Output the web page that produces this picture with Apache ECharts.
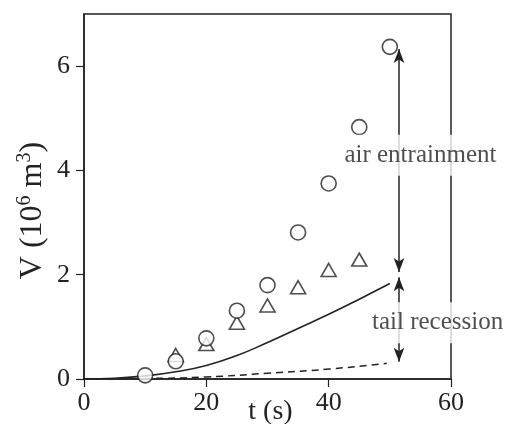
<!DOCTYPE html>
<html>
<head>
<meta charset="utf-8">
<script src="https://cdn.jsdelivr.net/npm/echarts@6/dist/echarts.min.js"></script>
<style>html,body{margin:0;padding:0;background:#fff;}#c{width:508px;height:424px;}</style>
</head>
<body>
<div id="c"></div>
<script>
// ---- data ----
var circleT = [10, 15, 20, 25, 30, 35, 40, 45, 50];
var circleV = [0.07, 0.34, 0.78, 1.31, 1.80, 2.81, 3.75, 4.83, 6.37];
var triT = [15, 20, 25, 30, 35, 40, 45];
var triV = [0.46, 0.67, 1.08, 1.41, 1.76, 2.09, 2.29];
var solidT = [0, 5, 10, 15, 20, 25, 30, 35, 40, 45, 50];
var solidV = [0, 0.015, 0.06, 0.14, 0.26, 0.45, 0.70, 0.97, 1.24, 1.53, 1.83];
var dashT = [0, 10, 20, 30, 40, 49.5];
var dashV = [0, 0.01, 0.04, 0.11, 0.19, 0.30];
var xTicks = [0, 20, 40, 60];
var yTicks = [0, 2, 4, 6];
// annotations: arrow position t, ranges, labels
var arrowT = 51.5;
var airRange = [2.05, 6.33];
var tailRange = [0.33, 1.95];
var labels = ['air entrainment', 'tail recession'];
var labelPos = [[55.0, 4.29], [57.8, 1.08]];

function pairs(a, b) { return a.map(function (v, i) { return [v, b[i]]; }); }

var FONT = 'Liberation Serif';
var INK = '#222';
var chart = echarts.init(document.getElementById('c'), null, {renderer: 'canvas'});
chart.setOption({
  animation: false,
  backgroundColor: '#fff',
  grid: {left: 84, right: 57, top: 14, bottom: 45, containLabel: false, outerBoundsMode: 'none',
    show: true, borderColor: INK, borderWidth: 1.5, backgroundColor: 'transparent'},
  xAxis: {
    type: 'value', min: xTicks[0], max: xTicks[xTicks.length - 1], interval: 20,
    name: 't (s)', nameLocation: 'middle', nameGap: 19, nameMoveOverlap: false,
    nameTextStyle: {fontFamily: FONT, fontSize: 28, color: INK, padding: [0, 0, 0, 6]},
    axisLine: {show: true, lineStyle: {color: INK, width: 1.5}},
    axisTick: {show: true, inside: false, length: 8, lineStyle: {color: INK, width: 1.2}},
    axisLabel: {fontFamily: FONT, fontSize: 26, color: INK, margin: 11},
    splitLine: {show: false}
  },
  yAxis: {
    type: 'value', min: 0, max: 7, interval: 2,
    name: 'V (10{sup|6} m{sup|3})', nameLocation: 'middle', nameGap: 34, nameMoveOverlap: false,
    nameTextStyle: {fontFamily: FONT, fontSize: 32, color: INK, padding: [0, 28, 0, 0],
      rich: {sup: {fontFamily: FONT, fontSize: 20, color: INK, verticalAlign: 'top', padding: [0, 0, 15, 0]}}},
    axisLine: {show: true, lineStyle: {color: INK, width: 1.5}},
    axisTick: {show: true, inside: false, length: 8, lineStyle: {color: INK, width: 1.2}},
    axisLabel: {fontFamily: FONT, fontSize: 26, color: INK, margin: 14, showMaxLabel: false,
      formatter: function (v) { return yTicks.indexOf(v) >= 0 ? String(v) : ''; }},
    splitLine: {show: false}
  },
  series: [
    {
      type: 'line', data: pairs(solidT, solidV), smooth: true, symbol: 'none', z: 3,
      lineStyle: {color: INK, width: 1.6}
    },
    {
      type: 'line', data: pairs(dashT, dashV), smooth: true, symbol: 'none', z: 3,
      lineStyle: {color: INK, width: 1.5, type: [7, 5]}
    },
    {
      type: 'scatter', data: pairs(triT, triV), symbol: 'triangle', symbolSize: [15, 13], z: 4,
      itemStyle: {color: '#fff', borderColor: INK, borderWidth: 1.6}
    },
    {
      type: 'scatter', data: pairs(circleT, circleV), symbol: 'circle', symbolSize: 15, z: 5,
      itemStyle: {color: '#fff', borderColor: INK, borderWidth: 1.6}
    },
    {
      type: 'line', data: [], z: 6,
      markLine: {
        silent: true, symbol: ['arrow', 'arrow'], symbolSize: [8, 14],
        lineStyle: {color: INK, width: 1.5, type: 'solid'},
        label: {show: false},
        data: [
          [{coord: [arrowT, airRange[0]]}, {coord: [arrowT, airRange[1]]}],
          [{coord: [arrowT, tailRange[0]]}, {coord: [arrowT, tailRange[1]]}]
        ]
      }
    },
    {
      type: 'scatter', z: 10, symbolSize: 0, clip: false,
      data: labelPos.map(function (p, i) { return {value: p, name: labels[i]}; }),
      label: {
        show: true, position: 'inside', formatter: function (p) { return p.name; },
        fontFamily: FONT, fontSize: 25, color: INK, backgroundColor: '#fff', padding: [8, 3, 8, 3]
      }
    }
  ]
});
</script>
</body>
</html>
